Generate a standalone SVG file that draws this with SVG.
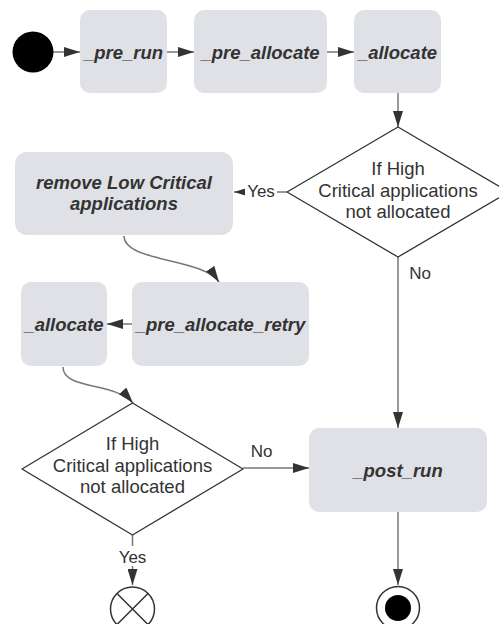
<svg xmlns="http://www.w3.org/2000/svg" width="499" height="624" viewBox="0 0 499 624">
  <style>
    .node { fill: #dfe1e6; }
    .label { font-family: "Liberation Sans", Arial, sans-serif; font-size: 18.5px; font-weight: bold; font-style: italic; fill: #333333; text-anchor: middle; }
    .cond { fill: #ffffff; stroke: #333333; stroke-width: 1.3; stroke-linejoin: round; }
    .ctext { font-family: "Liberation Sans", Arial, sans-serif; font-size: 18.5px; fill: #333333; text-anchor: middle; }
    .edge { fill: none; stroke: #777777; stroke-width: 1.5; }
    .elabel { font-family: "Liberation Sans", Arial, sans-serif; font-size: 17px; fill: #333333; text-anchor: middle; }
  </style>
  <defs>
    <marker id="arrow" markerWidth="16" markerHeight="10" refX="16" refY="5" orient="auto" markerUnits="userSpaceOnUse">
      <path d="M0,0 L16,5 L0,10 Z" fill="#333333"/>
    </marker>
  </defs>
  <rect width="499" height="624" fill="#ffffff"/>

  <!-- connectors -->
  <g id="connectors">
    <path class="edge" d="M53,52 L80,52" marker-end="url(#arrow)"/>
    <path class="edge" d="M167,52 L194,52" marker-end="url(#arrow)"/>
    <path class="edge" d="M327,52 L354,52" marker-end="url(#arrow)"/>
    <path class="edge" d="M398,93 L398,127" marker-end="url(#arrow)"/>
    <path class="edge" d="M287,192 L234,192" marker-end="url(#arrow)"/>
    <path class="edge" d="M398,257 L398,428" marker-end="url(#arrow)"/>
    <path class="edge" d="M124,236 C124,262 203,258 219,282" marker-end="url(#arrow)"/>
    <path class="edge" d="M132,324 L107,324" marker-end="url(#arrow)"/>
    <path class="edge" d="M63,367 C63,390 115,382 133,403" marker-end="url(#arrow)"/>
    <path class="edge" d="M243,468 L309,468" marker-end="url(#arrow)"/>
    <path class="edge" d="M132.5,535 L132.5,585" marker-end="url(#arrow)"/>
    <path class="edge" d="M398,512 L398,585" marker-end="url(#arrow)"/>
    <!-- edge labels -->
    <rect x="245" y="182" width="32" height="20" fill="#ffffff"/>
    <text class="elabel" x="261" y="197">Yes</text>
    <text class="elabel" x="420" y="279">No</text>
    <text class="elabel" x="261.5" y="457">No</text>
    <rect x="117" y="546" width="32" height="20" fill="#ffffff"/>
    <text class="elabel" x="132.5" y="563">Yes</text>
  </g>

  <g id="start">
    <circle cx="33" cy="52" r="20.5" fill="#000000"/>
  </g>
  <g id="pre_run">
    <rect class="node" x="80" y="10" width="87" height="83" rx="10"/>
    <text class="label" x="123.5" y="58.5">_pre_run</text>
  </g>
  <g id="pre_allocate">
    <rect class="node" x="194" y="10" width="133" height="83" rx="10"/>
    <text class="label" x="260.5" y="58.5">_pre_allocate</text>
  </g>
  <g id="allocate">
    <rect class="node" x="354" y="10" width="87" height="83" rx="10"/>
    <text class="label" x="397.5" y="58.5">_allocate</text>
  </g>
  <g id="check_high">
    <path class="cond" d="M398,127 L509,192 L398,257 L287,192 Z"/>
    <text class="ctext" x="398" y="175">If High</text>
    <text class="ctext" x="398" y="197">Critical applications</text>
    <text class="ctext" x="398" y="218">not allocated</text>
  </g>
  <g id="remove_low">
    <rect class="node" x="15" y="152" width="218" height="83" rx="12"/>
    <text class="label" x="124" y="189">remove Low Critical</text>
    <text class="label" x="124" y="210">applications</text>
  </g>
  <g id="pre_allocate_retry">
    <rect class="node" x="132" y="282" width="177" height="84" rx="10"/>
    <text class="label" x="220.5" y="330.5">_pre_allocate_retry</text>
  </g>
  <g id="allocate_retry">
    <rect class="node" x="21" y="282" width="86" height="84" rx="10"/>
    <text class="label" x="64" y="330.5">_allocate</text>
  </g>
  <g id="check_high_retry">
    <path class="cond" d="M132.5,403 L243,469 L132.5,535 L22,469 Z"/>
    <text class="ctext" x="132.5" y="450">If High</text>
    <text class="ctext" x="132.5" y="472">Critical applications</text>
    <text class="ctext" x="132.5" y="493">not allocated</text>
  </g>
  <g id="post_run">
    <rect class="node" x="309" y="428" width="178" height="84" rx="10"/>
    <text class="label" x="398" y="476.5">_post_run</text>
  </g>
  <g id="flow_final">
    <circle cx="132.5" cy="609" r="22" fill="#ffffff" stroke="#333333" stroke-width="1.5"/>
    <path d="M117,593.5 L148,624.5 M148,593.5 L117,624.5" stroke="#333333" stroke-width="1.5"/>
  </g>
  <g id="end">
    <circle cx="398" cy="608" r="21.5" fill="#ffffff" stroke="#333333" stroke-width="1.5"/>
    <circle cx="398" cy="608" r="13" fill="#000000"/>
  </g>
</svg>
